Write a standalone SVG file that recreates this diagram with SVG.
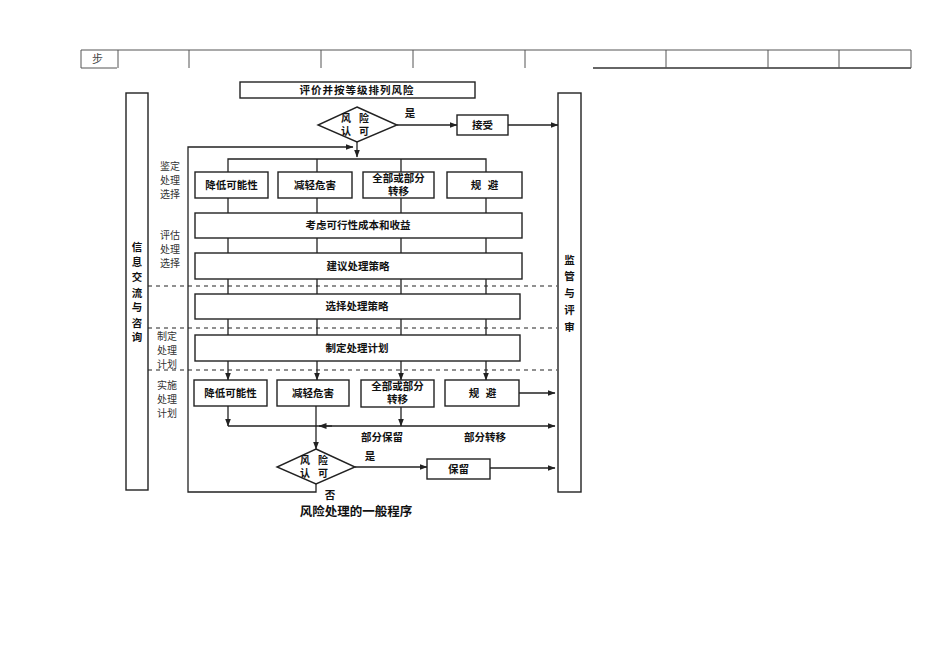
<svg xmlns="http://www.w3.org/2000/svg" width="950" height="672" viewBox="0 0 950 672">
<style>
.ln{stroke:#222;stroke-width:1.3;fill:none}
.bx{fill:#fff;stroke:#222;stroke-width:1.4}
.tb{stroke:#555;stroke-width:1;fill:none}
.t{font-family:"Liberation Sans","Noto Sans CJK SC",sans-serif;font-weight:bold;font-size:10.5px;fill:#111;text-anchor:middle}
.dm{font-family:"Liberation Sans","Noto Sans CJK SC",sans-serif;font-weight:bold;font-size:10px;fill:#111;text-anchor:middle;letter-spacing:8px}
.s{font-family:"Liberation Sans","Noto Sans CJK SC",sans-serif;font-size:10px;fill:#333;text-anchor:middle}
.d{stroke:#222;stroke-width:1.2;stroke-dasharray:4 4;fill:none}
</style>
<defs>
<marker id="ah" markerWidth="8" markerHeight="6" refX="7.5" refY="3" orient="auto" markerUnits="userSpaceOnUse"><path d="M0,0 L8,3 L0,6 Z" fill="#222"/></marker>
</defs>
<rect width="950" height="672" fill="#fff"/>
<g id="table">
<line class="tb" x1="81" y1="50" x2="911" y2="50"/>
<line class="tb" x1="81" y1="68" x2="117" y2="68"/>
<line class="tb" x1="593" y1="68" x2="911" y2="68" style="stroke-width:1.3;stroke:#333"/>
<line class="tb" x1="81" y1="50" x2="81" y2="68"/>
<line class="tb" x1="118" y1="50" x2="118" y2="68"/>
<line class="tb" x1="189" y1="50" x2="189" y2="68"/>
<line class="tb" x1="321" y1="50" x2="321" y2="68"/>
<line class="tb" x1="413" y1="50" x2="413" y2="68"/>
<line class="tb" x1="525" y1="50" x2="525" y2="68"/>
<line class="tb" x1="666" y1="50" x2="666" y2="68"/>
<line class="tb" x1="768" y1="50" x2="768" y2="68"/>
<line class="tb" x1="839" y1="50" x2="839" y2="68"/>
<line class="tb" x1="911" y1="50" x2="911" y2="68"/>
<text x="92" y="63" style="font-family:'Liberation Sans','Noto Sans CJK SC',sans-serif;font-size:11px;fill:#444">步</text>
</g>
<g id="connectors">
<line class="ln" x1="397" y1="125" x2="457" y2="125" marker-end="url(#ah)"/>
<line class="ln" x1="508" y1="125" x2="558" y2="125" marker-end="url(#ah)"/>
<line class="ln" x1="357" y1="142" x2="357" y2="157" marker-end="url(#ah)"/>
<path class="ln" d="M228,172 V159 H486 V172 M317,159 V172 M401,159 V172"/>
<path class="ln" d="M228,198 V213 M317,198 V213 M401,198 V213 M486,198 V213"/>
<path class="ln" d="M228,238 V253 M317,238 V253 M401,238 V253 M486,238 V253"/>
<path class="ln" d="M228,279 V294 M317,279 V294 M401,279 V294 M486,279 V294"/>
<path class="ln" d="M228,319 V335 M317,319 V335 M401,319 V335 M486,319 V335"/>
<line class="ln" x1="228" y1="361" x2="228" y2="380" marker-end="url(#ah)"/>
<line class="ln" x1="317" y1="361" x2="317" y2="380" marker-end="url(#ah)"/>
<line class="ln" x1="401" y1="361" x2="401" y2="380" marker-end="url(#ah)"/>
<line class="ln" x1="486" y1="361" x2="486" y2="380" marker-end="url(#ah)"/>
<line class="ln" x1="228" y1="406" x2="228" y2="426" marker-end="url(#ah)"/>
<line class="ln" x1="401" y1="407" x2="401" y2="426" marker-end="url(#ah)"/>
<line class="ln" x1="316" y1="406" x2="316" y2="449" marker-end="url(#ah)"/>
<line class="ln" x1="228" y1="426" x2="555" y2="426" marker-end="url(#ah)"/>
<line class="ln" x1="332" y1="426" x2="319" y2="426" marker-end="url(#ah)"/>
<line class="ln" x1="519" y1="393" x2="555" y2="393" marker-end="url(#ah)"/>
<line class="ln" x1="355" y1="467" x2="427" y2="467" marker-end="url(#ah)"/>
<line class="ln" x1="490" y1="468" x2="555" y2="468" marker-end="url(#ah)"/>
<path class="ln" d="M316,484 V492 H188 V147 H353" marker-end="url(#ah)"/>
<line class="d" x1="148" y1="286" x2="557" y2="286"/>
<line class="d" x1="148" y1="328" x2="557" y2="328"/>
<line class="d" x1="148" y1="370" x2="557" y2="370"/>
</g>
<g id="info">
<rect class="bx" x="126" y="93" width="22" height="397"/>
<text class="t" x="137" y="251">信</text>
<text class="t" x="137" y="266">息</text>
<text class="t" x="137" y="281">交</text>
<text class="t" x="137" y="297">流</text>
<text class="t" x="137" y="311">与</text>
<text class="t" x="137" y="327">咨</text>
<text class="t" x="137" y="341">询</text>
</g>
<g id="monitor">
<rect class="bx" x="558" y="93" width="23" height="399"/>
<text class="t" x="569.5" y="264">监</text>
<text class="t" x="569.5" y="280">管</text>
<text class="t" x="569.5" y="297">与</text>
<text class="t" x="569.5" y="314">评</text>
<text class="t" x="569.5" y="331">审</text>
</g>
<g id="title">
<rect class="bx" x="240" y="82" width="235" height="16"/>
<text class="t" x="357" y="94" style="letter-spacing:1px">评价并按等级排列风险</text>
</g>
<g id="diamond1">
<polygon class="bx" points="357,107 397,125 357,142 318,125"/>
<text class="dm" x="359" y="122">风险</text>
<text class="dm" x="359" y="135">认可</text>
</g>
<g id="accept">
<rect class="bx" x="457" y="115" width="51" height="20"/>
<text class="t" x="482.5" y="129">接受</text>
</g>
<g id="labels">
<text class="t" x="410" y="117">是</text>
<text class="t" x="370" y="460">是</text>
<text class="t" x="330" y="499">否</text>
<text class="t" x="382" y="441">部分保留</text>
<text class="t" x="485" y="441">部分转移</text>
<text class="t" x="356" y="516" style="font-size:12.5px">风险处理的一般程序</text>
<text class="s" x="170" y="170">鉴定</text>
<text class="s" x="170" y="184">处理</text>
<text class="s" x="170" y="198">选择</text>
<text class="s" x="170" y="239">评估</text>
<text class="s" x="170" y="253">处理</text>
<text class="s" x="170" y="267">选择</text>
<text class="s" x="167" y="340">制定</text>
<text class="s" x="167" y="354">处理</text>
<text class="s" x="167" y="368">计划</text>
<text class="s" x="167" y="389">实施</text>
<text class="s" x="167" y="403">处理</text>
<text class="s" x="167" y="417">计划</text>
</g>
<g id="r1b1"><rect class="bx" x="195" y="172" width="73" height="26"/><text class="t" x="231.5" y="189">降低可能性</text></g>
<g id="r1b2"><rect class="bx" x="278" y="172" width="74" height="26"/><text class="t" x="315" y="189">减轻危害</text></g>
<g id="r1b3"><rect class="bx" x="363" y="172" width="71" height="26"/><text class="t" x="398.5" y="182">全部或部分</text><text class="t" x="398.5" y="195">转移</text></g>
<g id="r1b4"><rect class="bx" x="447" y="172" width="75" height="26"/><text class="t" x="476" y="189">规</text><text class="t" x="493" y="189">避</text></g>
<g id="consider"><rect class="bx" x="195" y="213" width="327" height="25"/><text class="t" x="358" y="229">考虑可行性成本和收益</text></g>
<g id="suggest"><rect class="bx" x="195" y="253" width="327" height="26"/><text class="t" x="358" y="270">建议处理策略</text></g>
<g id="select"><rect class="bx" x="195" y="294" width="325" height="25"/><text class="t" x="357" y="310">选择处理策略</text></g>
<g id="plan"><rect class="bx" x="195" y="335" width="325" height="26"/><text class="t" x="357" y="352">制定处理计划</text></g>
<g id="r2b1"><rect class="bx" x="194" y="380" width="73" height="26"/><text class="t" x="230.5" y="397">降低可能性</text></g>
<g id="r2b2"><rect class="bx" x="277" y="380" width="72" height="26"/><text class="t" x="313" y="397">减轻危害</text></g>
<g id="r2b3"><rect class="bx" x="361" y="380" width="73" height="27"/><text class="t" x="397.5" y="390">全部或部分</text><text class="t" x="397.5" y="403">转移</text></g>
<g id="r2b4"><rect class="bx" x="445" y="380" width="74" height="26"/><text class="t" x="474" y="397">规</text><text class="t" x="491" y="397">避</text></g>
<g id="diamond2">
<polygon class="bx" points="316,449 355,467 316,484 277,467"/>
<text class="dm" x="318" y="464">风险</text>
<text class="dm" x="318" y="477">认可</text>
</g>
<g id="retain"><rect class="bx" x="427" y="459" width="63" height="20"/><text class="t" x="458.5" y="473">保留</text></g>
</svg>
